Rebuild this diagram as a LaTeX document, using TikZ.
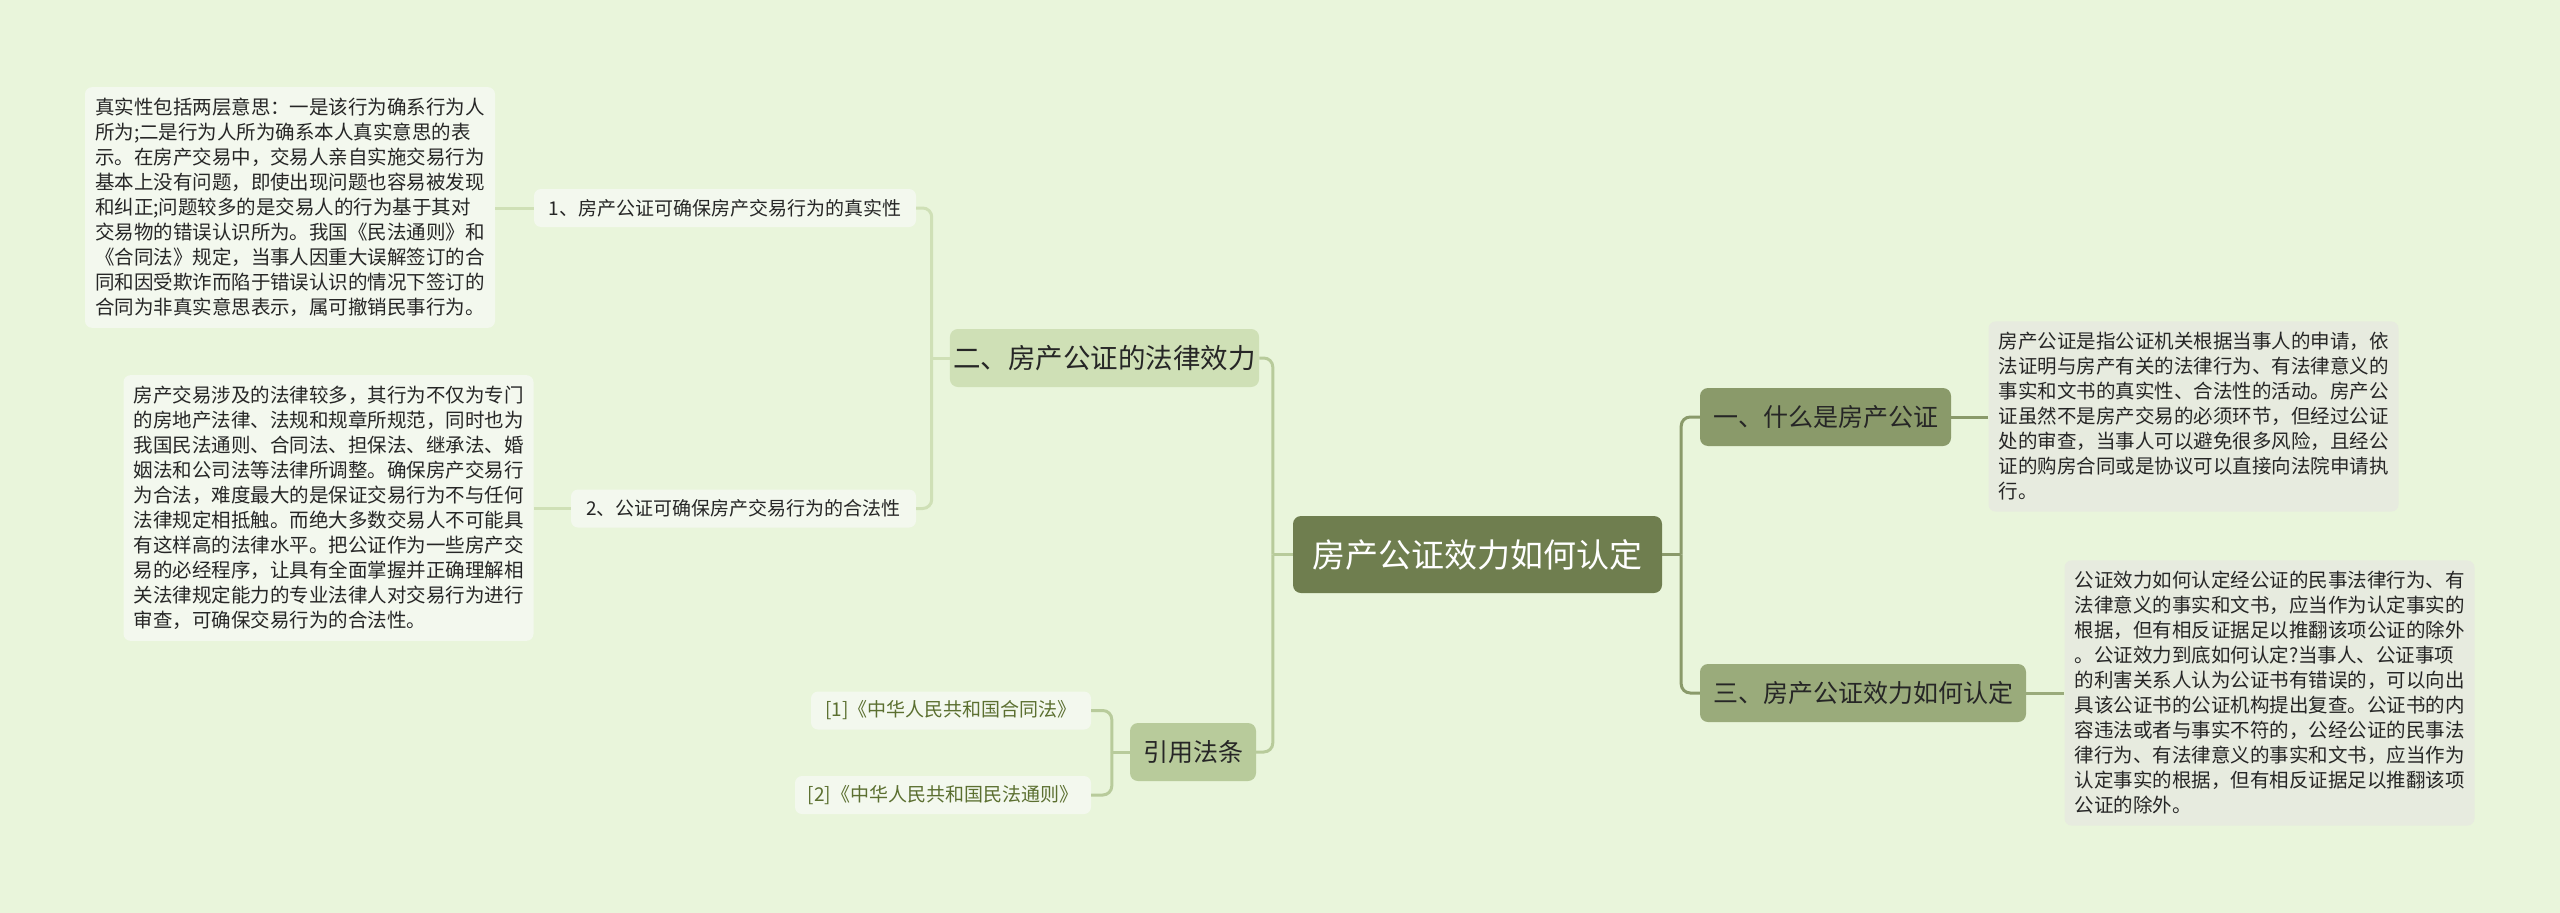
\documentclass[tikz,border=0pt]{standalone}
\usepackage{fontspec}
\setmainfont{Noto Sans CJK SC}
\usetikzlibrary{calc}

\definecolor{bgfill}{HTML}{E9F5DB}
\definecolor{rootfill}{HTML}{6F7E4F}
\definecolor{onefill}{HTML}{8A9A6A}
\definecolor{threefill}{HTML}{9AAB7B}
\definecolor{twofill}{HTML}{CFE0B6}
\definecolor{citefill}{HTML}{B8CB9B}
\definecolor{leaffill}{HTML}{F3F8EE}
\definecolor{notefill}{HTML}{E7EBDF}
\definecolor{textdark}{HTML}{262626}
\definecolor{citetext}{HTML}{5B6F30}

\tikzset{
  rootbox/.style={rounded corners=8pt, fill=rootfill, text=white,
    font=\fontsize{33}{33}\selectfont, minimum width=369pt, minimum height=77pt},
  topicbox/.style={rounded corners=8pt, text=textdark,
    font=\fontsize{25}{25}\selectfont, minimum height=58pt},
  subbox/.style={rounded corners=7pt, fill=leaffill, text=textdark,
    font=\fontsize{19}{19}\selectfont, minimum height=38pt},
  notebox/.style={rounded corners=7pt, align=left, text=textdark,
    font=\fontsize{19.5}{25}\selectfont, inner xsep=10pt, inner ysep=11pt},
  link/.style={line width=3pt, rounded corners=9pt}
}

\begin{document}
\begin{tikzpicture}[x=1pt, y=-1pt]
    \useasboundingbox[fill=bgfill] (0,0) rectangle (2560,913);

    \node[rootbox] (root) at (1477.5,554.5) {房产公证效力如何认定};

    \begin{scope}
        \node[topicbox, fill=onefill, minimum width=251pt] (what) at (1825.5,417) {一、什么是房产公证};
        \node[topicbox, fill=threefill, minimum width=326pt] (how) at (1863,693) {三、房产公证效力如何认定};
        \node[notebox, fill=notefill] (whatnote) at (2193.5,416.5) {房产公证是指公证机关根据当事人的申请，依\\法证明与房产有关的法律行为、有法律意义的\\事实和文书的真实性、合法性的活动。房产公\\证虽然不是房产交易的必须环节，但经过公证\\处的审查，当事人可以避免很多风险，且经公\\证的购房合同或是协议可以直接向法院申请执\\行。};
        \node[notebox, fill=notefill] (hownote) at (2269.5,693) {公证效力如何认定经公证的民事法律行为、有\\法律意义的事实和文书，应当作为认定事实的\\根据，但有相反证据足以推翻该项公证的除外\\。公证效力到底如何认定?当事人、公证事项\\的利害关系人认为公证书有错误的，可以向出\\具该公证书的公证机构提出复查。公证书的内\\容违法或者与事实不符的，公经公证的民事法\\律行为、有法律意义的事实和文书，应当作为\\认定事实的根据，但有相反证据足以推翻该项\\公证的除外。};

        \coordinate (rtrunk) at ([xshift=19pt]root.east);
        \draw[link, draw=onefill] (root.east) -- (rtrunk);
        \draw[link, draw=onefill] (rtrunk) |- (what.west);
        \draw[link, draw=onefill] (rtrunk) |- (how.west);
        \draw[link, draw=onefill] (what.east) -- (what.east -| whatnote.west);
        \draw[link, draw=threefill] (how.east) -- (how.east -| hownote.west);
    \end{scope}

    \begin{scope}
        \node[topicbox, fill=twofill, minimum width=303pt, font=\fontsize{27.5}{27.5}\selectfont] (effect) at (1104.5,358) {二、房产公证的法律效力};
        \node[topicbox, fill=citefill, minimum width=126pt] (cite) at (1193,752) {引用法条};
        \node[subbox, minimum width=382pt] (real) at (725,208) {1、房产公证可确保房产交易行为的真实性};
        \node[subbox, minimum width=345pt] (legal) at (743.5,508.5) {2、公证可确保房产交易行为的合法性};
        \node[subbox, minimum width=280pt, text=citetext] (lawa) at (951,710.5) {[1]《中华人民共和国合同法》};
        \node[subbox, minimum width=296pt, text=citetext] (lawb) at (943,795) {[2]《中华人民共和国民法通则》};
        \node[notebox, fill=leaffill] (realnote) at (290,207.5) {真实性包括两层意思：一是该行为确系行为人\\所为;二是行为人所为确系本人真实意思的表\\示。在房产交易中，交易人亲自实施交易行为\\基本上没有问题，即使出现问题也容易被发现\\和纠正;问题较多的是交易人的行为基于其对\\交易物的错误认识所为。我国《民法通则》和\\《合同法》规定，当事人因重大误解签订的合\\同和因受欺诈而陷于错误认识的情况下签订的\\合同为非真实意思表示，属可撤销民事行为。};
        \node[notebox, fill=leaffill] (legalnote) at (328.5,508) {房产交易涉及的法律较多，其行为不仅为专门\\的房地产法律、法规和规章所规范，同时也为\\我国民法通则、合同法、担保法、继承法、婚\\姻法和公司法等法律所调整。确保房产交易行\\为合法，难度最大的是保证交易行为不与任何\\法律规定相抵触。而绝大多数交易人不可能具\\有这样高的法律水平。把公证作为一些房产交\\易的必经程序，让具有全面掌握并正确理解相\\关法律规定能力的专业法律人对交易行为进行\\审查，可确保交易行为的合法性。};

        \coordinate (ltrunk) at ([xshift=-20pt]root.west);
        \draw[link, draw=citefill] (root.west) -- (ltrunk);
        \draw[link, draw=citefill] (ltrunk) |- (effect.east);
        \draw[link, draw=citefill] (ltrunk) |- (cite.east);

        \coordinate (etrunk) at ([xshift=-18pt]effect.west);
        \draw[link, draw=twofill] (effect.west) -- (etrunk);
        \draw[link, draw=twofill] (etrunk) |- (real.east);
        \draw[link, draw=twofill] (etrunk) |- (legal.east);
        \draw[link, draw=twofill] (real.west) -- (real.west -| realnote.east);
        \draw[link, draw=twofill] (legal.west) -- (legal.west -| legalnote.east);

        \coordinate (ctrunk) at ([xshift=-18pt]cite.west);
        \draw[link, draw=citefill] (cite.west) -- (ctrunk);
        \draw[link, draw=citefill] (ctrunk) |- (lawa.east);
        \draw[link, draw=citefill] (ctrunk) |- (lawb.east);
    \end{scope}
\end{tikzpicture}
\end{document}
